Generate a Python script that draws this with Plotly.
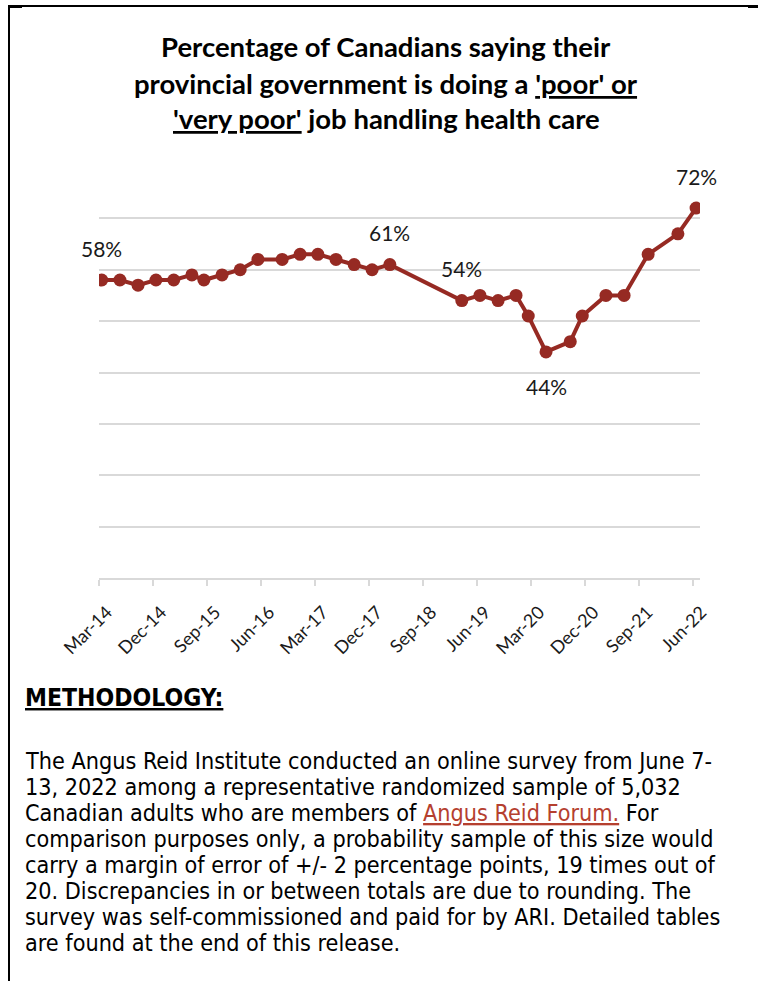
import plotly.graph_objects as go

# ---------------- data ----------------
dates = ["2014-03-15", "2014-06-15", "2014-09-15", "2014-12-15", "2015-03-15",
         "2015-06-15", "2015-08-15", "2015-11-15", "2016-02-15", "2016-05-15",
         "2016-09-15", "2016-12-15", "2017-03-15", "2017-06-15", "2017-09-15",
         "2017-12-15", "2018-03-15", "2019-03-15", "2019-06-15", "2019-09-15",
         "2019-12-15", "2020-02-15", "2020-05-15", "2020-09-15", "2020-11-15",
         "2021-03-15", "2021-06-15", "2021-10-15", "2022-03-15", "2022-06-15"]
values = [58, 58, 57, 58, 58, 59, 58, 59, 60, 62, 62, 63, 63, 62, 61, 60, 61,
          54, 55, 54, 55, 51, 44, 46, 51, 55, 55, 63, 67, 72]

tick_vals = ["2014-03-01", "2014-12-01", "2015-09-01", "2016-06-01", "2017-03-01",
             "2017-12-01", "2018-09-01", "2019-06-01", "2020-03-01", "2020-12-01",
             "2021-09-01", "2022-06-01"]
tick_text = ["Mar-14", "Dec-14", "Sep-15", "Jun-16", "Mar-17", "Dec-17",
             "Sep-18", "Jun-19", "Mar-20", "Dec-20", "Sep-21", "Jun-22"]

labelled_points = [0, 16, 17, 22, 29]
label_below = [22]

title_lines = ["<b>Percentage of Canadians saying their</b>",
               "<b>provincial government is doing a <u>'poor' or</u></b>",
               "<b><u>'very poor'</u> job handling health care</b>"]

method_heading = "<b><u>METHODOLOGY:</u></b>"
method_lines = [
    "The Angus Reid Institute conducted an online survey from June 7-",
    "13, 2022 among a representative randomized sample of 5,032",
    "Canadian adults who are members of <span style='color:#B5402F'><u>Angus Reid Forum.</u></span> For",
    "comparison purposes only, a probability sample of this size would",
    "carry a margin of error of +/- 2 percentage points, 19 times out of",
    "20. Discrepancies in or between totals are due to rounding. The",
    "survey was self-commissioned and paid for by ARI. Detailed tables",
    "are found at the end of this release.",
]

# ---------------- layout geometry ----------------
W, H = 758, 981
ML, MR, MT, MB = 99, 58, 167, 403
PW = W - ML - MR
PH = H - MT - MB

def px(x):
    return (x - ML) / PW

def py(y):
    return (H - MB - y) / PH

LINE_COLOR = "#962A23"
GRID = "#D9D9D9"
FONT_MAIN = "Lato, 'Open Sans', sans-serif"
FONT_NARROW = "'DejaVu Sans Condensed', 'Liberation Sans Narrow', sans-serif"

fig = go.Figure()
fig.add_trace(go.Scatter(
    x=dates, y=values, mode="lines+markers",
    line=dict(color=LINE_COLOR, width=4),
    marker=dict(color=LINE_COLOR, size=13),
    hoverinfo="skip", showlegend=False,
))

annotations = []
for i in labelled_points:
    below = i in label_below
    annotations.append(dict(
        x=dates[i], y=values[i], xref="x", yref="y",
        text=f"{values[i]}%", showarrow=False,
        xanchor="center", yanchor="middle",
        yshift=-35 if below else 32,
        font=dict(family=FONT_MAIN, size=21, color="#1a1a1a"),
    ))

title_y = [47, 83, 118]
for t, yy in zip(title_lines, title_y):
    annotations.append(dict(
        x=px(386), y=py(yy), xref="paper", yref="paper",
        text=t, showarrow=False, xanchor="center", yanchor="middle",
        font=dict(family=FONT_MAIN, size=27.5, color="#000000"),
    ))

annotations.append(dict(
    x=px(23), y=py(697), xref="paper", yref="paper",
    text=method_heading, showarrow=False, xanchor="left", yanchor="middle",
    font=dict(family=FONT_NARROW, size=24.5, color="#000000"),
))
for k, t in enumerate(method_lines):
    annotations.append(dict(
        x=px(23), y=py(760 + 26 * k), xref="paper", yref="paper",
        text=t, showarrow=False, xanchor="left", yanchor="middle",
        font=dict(family=FONT_NARROW, size=23.2, color="#000000"),
    ))

shapes = [
    dict(type="line", xref="paper", yref="paper", x0=px(8), x1=px(758), y0=py(6), y1=py(6),
         line=dict(color="#000000", width=2)),
    dict(type="line", xref="paper", yref="paper", x0=px(9), x1=px(9), y0=py(5), y1=py(981),
         line=dict(color="#000000", width=2)),
    dict(type="line", xref="paper", yref="paper", x0=px(8), x1=px(22), y0=py(6.5), y1=py(6.5),
         line=dict(color="#000000", width=3)),
    dict(type="line", xref="paper", yref="paper", x0=px(748), x1=px(758), y0=py(6.5), y1=py(6.5),
         line=dict(color="#000000", width=3)),
]

fig.update_layout(
    width=W, height=H,
    margin=dict(l=ML, r=MR, t=MT, b=MB, pad=0),
    paper_bgcolor="white", plot_bgcolor="white",
    annotations=annotations, shapes=shapes,
    xaxis=dict(
        type="date", range=["2014-03-01", "2022-07-05"],
        tickvals=tick_vals, ticktext=tick_text, tickangle=-45,
        tickfont=dict(family=FONT_MAIN, size=18, color="#1a1a1a"),
        ticklabelshift=8, ticklabelstandoff=9,
        showgrid=False, zeroline=False,
        showline=True, linecolor=GRID, linewidth=1.5,
        ticks="outside", ticklen=6, tickcolor=GRID, tickwidth=1.5,
        fixedrange=True,
    ),
    yaxis=dict(
        range=[0, 80], dtick=10, showticklabels=False,
        showgrid=True, gridcolor=GRID, gridwidth=1.5,
        zeroline=False, showline=False, fixedrange=True,
    ),
)

fig.write_html("out.html")
